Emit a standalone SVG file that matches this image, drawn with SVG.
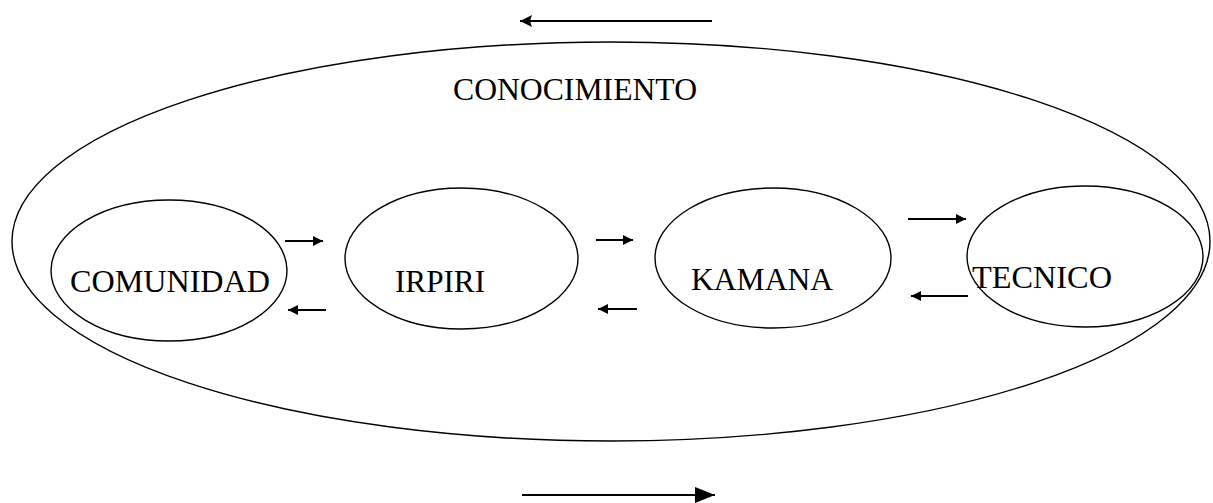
<svg xmlns="http://www.w3.org/2000/svg" width="1213" height="503" viewBox="0 0 1213 503">
<style>
.sh{fill:none;stroke:#000;stroke-width:1.4}
.lb{font-family:"Liberation Serif","Times New Roman",serif;font-size:32px;fill:#000}
.ar{stroke:#000;stroke-width:1.8;fill:none}
</style>
<defs>
<marker id="ah" markerUnits="userSpaceOnUse" markerWidth="12" markerHeight="10" refX="10" refY="5" orient="auto">
<path d="M0,0 L10,5 L0,10 Z" fill="#000"/>
</marker>
<marker id="ahL" markerUnits="userSpaceOnUse" markerWidth="14" markerHeight="12" refX="12" refY="6" orient="auto">
<path d="M0,0 L12,6 L0,12 L2,6 Z" fill="#000"/>
</marker>
<marker id="ahB" markerUnits="userSpaceOnUse" markerWidth="22" markerHeight="18" refX="20" refY="8" orient="auto">
<path d="M0,0 L20,8 L0,16 Z" fill="#000"/>
</marker>
</defs>
<rect width="1213" height="503" fill="#fff"/>
<g id="conocimiento">
<ellipse class="sh" cx="611" cy="241.5" rx="599" ry="199.5"/>
<text class="lb" x="453" y="100" textLength="244" lengthAdjust="spacingAndGlyphs">CONOCIMIENTO</text>
</g>
<g id="comunidad">
<ellipse class="sh" cx="169" cy="270.5" rx="118" ry="70.5"/>
<text class="lb" x="70" y="292" textLength="200" lengthAdjust="spacingAndGlyphs">COMUNIDAD</text>
</g>
<g id="irpiri">
<ellipse class="sh" cx="461.5" cy="258.5" rx="116.5" ry="70.5"/>
<text class="lb" x="395" y="292" textLength="90" lengthAdjust="spacingAndGlyphs">IRPIRI</text>
</g>
<g id="kamana">
<ellipse class="sh" cx="773" cy="258" rx="118" ry="70"/>
<text class="lb" x="691" y="290" textLength="142" lengthAdjust="spacingAndGlyphs">KAMANA</text>
</g>
<g id="tecnico">
<ellipse class="sh" cx="1085" cy="256.5" rx="118" ry="70.5"/>
<text class="lb" x="972" y="288" textLength="140" lengthAdjust="spacingAndGlyphs">TECNICO</text>
</g>
<g id="connectors">
<line class="ar" x1="285" y1="241" x2="323" y2="241" marker-end="url(#ah)"/>
<line class="ar" x1="326" y1="310" x2="288" y2="310" marker-end="url(#ah)"/>
<line class="ar" x1="596" y1="240" x2="633" y2="240" marker-end="url(#ah)"/>
<line class="ar" x1="637" y1="309" x2="598" y2="309" marker-end="url(#ah)"/>
<line class="ar" x1="908" y1="219" x2="966" y2="219" marker-end="url(#ah)"/>
<line class="ar" x1="968" y1="296" x2="911" y2="296" marker-end="url(#ah)"/>
<line class="ar" x1="712" y1="21" x2="520" y2="21" marker-end="url(#ahL)"/>
<line class="ar" x1="522" y1="495" x2="715" y2="495" marker-end="url(#ahB)"/>
</g>
</svg>
